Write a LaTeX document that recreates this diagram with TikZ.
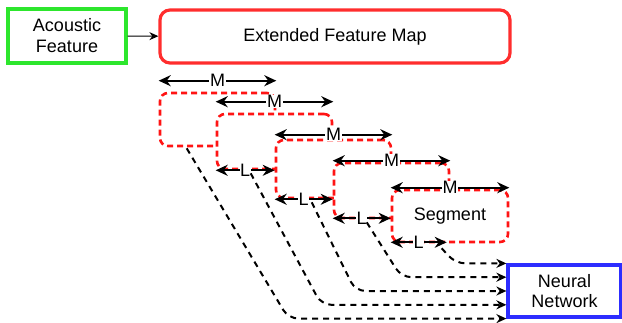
\documentclass[tikz,border=0pt]{standalone}
\usepackage{fontspec}
\setmainfont{Liberation Sans}
\usetikzlibrary{arrows.meta,calc}
\definecolor{boxred}{RGB}{255,45,45}
\definecolor{segred}{RGB}{255,20,20}
\definecolor{boxgreen}{RGB}{45,230,45}
\definecolor{boxblue}{RGB}{45,45,255}
\begin{document}
\begin{tikzpicture}[x=1pt,y=-1pt,
  txt/.style={font=\fontsize{18}{20}\selectfont, align=center, inner sep=0pt},
  mainbox/.style={txt, draw=#1, line width=3.2pt, fill=white},
  segbox/.style={draw=segred, line width=2.6pt, dash pattern=on 6pt off 4pt,
    rounded corners=8pt, fill=white, minimum width=115pt},
  dimarrow/.style={line width=2.1pt,
    {Stealth[length=12pt,width=11pt]}-{Stealth[length=12pt,width=11pt]}},
  dimlabel/.style={txt, fill=white, inner sep=0.6pt},
  flow/.style={line width=2pt, dash pattern=on 6pt off 5pt, rounded corners=10pt,
    -{Stealth[length=10pt,width=9pt]}}
]
\useasboundingbox (0,0) rectangle (622,322);

% input and feature map
\node[mainbox=boxgreen, minimum width=118pt, minimum height=54pt] (ac) at (67,36)
  {Acoustic\\[1pt]Feature};
\node[mainbox=boxred, rounded corners=10pt, minimum width=350pt, minimum height=53pt]
  (efm) at (335,36.5) {Extended Feature Map};
\draw[line width=1pt, -{Stealth[length=9pt,width=8pt]}] (ac) -- (efm);

% network
\node[mainbox=boxblue, minimum width=113pt, minimum height=52pt] (nn) at (564.5,291)
  {Neural\\Network};

% sliding segments over the feature map
\node[segbox, minimum height=53pt] (s1) at (217.5,119.5) {};
\draw[dimarrow] ([yshift=11pt]s1.north west) -- node[dimlabel]{M} ([yshift=11pt]s1.north east);

\node[segbox, minimum height=55pt] (s2) at (274.5,141.5) {};
\draw[dimarrow] ([yshift=11pt]s2.north west) -- node[dimlabel]{M} ([yshift=11pt]s2.north east);

\node[segbox, minimum height=58pt] (s3) at (333.5,169) {};
\draw[dimarrow] ([yshift=4pt]s3.north west) -- node[dimlabel]{M} ([yshift=4pt]s3.north east);

\node[segbox, minimum height=55pt] (s4) at (391.5,190.5) {};
\draw[dimarrow] ([yshift=1pt]s4.north west) -- node[dimlabel]{M} ([yshift=1pt]s4.north east);

\node[segbox, minimum width=116pt, minimum height=52pt] (s5) at (450,216) {};
\node[txt] at (s5) {Segment};
\draw[dimarrow] ([yshift=1pt]s5.north west) -- node[dimlabel]{M} ([yshift=1pt]s5.north east);

% hop size between segments
\draw[dimarrow] (s2.south west) -- node[dimlabel]{L} (s2.south west -| s3.west);
\draw[dimarrow] (s3.south west) -- node[dimlabel]{L} (s3.south west -| s4.west);
\draw[dimarrow] ([yshift=1pt]s4.south west) -- node[dimlabel]{L} ([yshift=1pt]s4.south west -| s5.west);
\draw[dimarrow] ([yshift=1pt]s5.south west) -- node[dimlabel]{L} ([shift={(56,-1)}]s5.south west);

% each segment is fed to the network
\coordinate (b1) at ($(s1.south west)+(28,1)$);
\coordinate (b2) at ($(s2.south west)+(35,3)$);
\coordinate (b3) at ($(s3.south west)+(37,3)$);
\coordinate (b4) at ($(s4.south west)+(34,3)$);
\coordinate (b5) at ($(s5.south west)+(51,5)$);
\coordinate (e5) at ($(nn.north west)!0!(nn.south west)$);
\coordinate (e4) at ($(nn.north west)!0.25!(nn.south west)$);
\coordinate (e3) at ($(nn.north west)!0.5!(nn.south west)$);
\coordinate (e2) at ($(nn.north west)!0.75!(nn.south west)$);
\coordinate (e1) at ($(nn.north west)!1!(nn.south west)$);
\draw[flow] (b5) -- ([xshift=-51pt]e5) -- (e5);
\draw[flow] (b4) -- ([xshift=-105pt]e4) -- (e4);
\draw[flow] (b3) -- ([xshift=-151pt]e3) -- (e3);
\draw[flow] (b2) -- ([xshift=-185pt]e2) -- (e2);
\draw[flow] (b1) -- ([xshift=-218pt]e1) -- (e1);
\end{tikzpicture}
\end{document}
